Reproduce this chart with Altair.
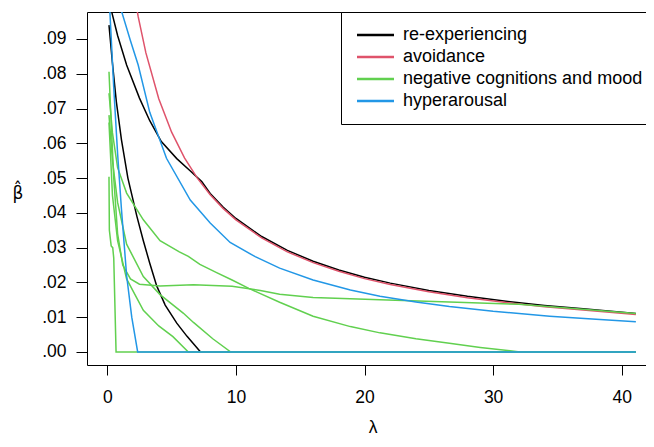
import altair as alt
import pandas as pd

groups = ["re-experiencing", "avoidance", "negative cognitions and mood", "hyperarousal"]
colors = ["#000000", "#DF536B", "#61D04F", "#2297E6"]

# re-experiencing (black)
re1_lam = [0.13, 0.4, 0.7, 1.1, 1.6, 2.3, 2.8, 3.3, 3.84, 4.5, 5.4, 6.2, 7.25, 41.1]
re1_val = [0.094, 0.083, 0.072, 0.061, 0.050, 0.039, 0.032, 0.0255, 0.019, 0.0135, 0.0083, 0.0045, 0.0, 0.0]
re2_lam = [0.13, 0.34, 0.8, 1.5, 2.5, 3.3, 4.2, 5.4, 6.5, 7.34, 8, 9, 10, 12, 14, 16, 18, 20, 22, 25, 28, 31, 34, 37, 41.1]
re2_val = [0.101, 0.0978, 0.091, 0.0825, 0.073, 0.0665, 0.0605, 0.0556, 0.0519, 0.049, 0.0456, 0.0417, 0.0384, 0.0332,
           0.0292, 0.0261, 0.0236, 0.0215, 0.0198, 0.0177, 0.0160, 0.0146, 0.0134, 0.0124, 0.0111]
# avoidance (red)
av_lam = [0.13, 0.6, 1.2, 1.8, 2.4, 3, 4, 5, 6, 7, 8, 9, 10, 12, 14, 16, 18, 20, 22, 25, 28, 31, 34, 37, 41.1]
av_val = [0.178, 0.1516, 0.1273, 0.1097, 0.0964, 0.086, 0.0728, 0.0632, 0.0558, 0.050, 0.0452, 0.0413, 0.038, 0.0328,
          0.0288, 0.0257, 0.0232, 0.0211, 0.0194, 0.0173, 0.0156, 0.0142, 0.0130, 0.0121, 0.0108]
# negative cognitions and mood (green)
nA_lam = [0.13, 0.16, 0.3, 0.42, 0.5, 0.68, 41.1]
nA_val = [0.0504, 0.035, 0.0305, 0.030, 0.027, 0.0, 0.0]
nB_lam = [0.13, 0.3, 0.5, 0.8, 1.2, 1.8, 2.5, 4.1, 6.7, 9.7, 11.9, 13.4, 16, 21.2, 26.6, 32, 36, 41.1]
nB_val = [0.0806, 0.066, 0.05, 0.034, 0.025, 0.021, 0.0195, 0.019, 0.0193, 0.0189, 0.0177, 0.0166, 0.0157, 0.015,
          0.0144, 0.0137, 0.0126, 0.0111]
nC_lam = [0.13, 0.4, 0.8, 1.5, 2.8, 4.1, 5.6, 6.3, 7.2, 8.5, 9.7, 11, 13.4, 16, 18.9, 21.2, 24, 26.6, 29, 32.1, 41.1]
nC_val = [0.0744, 0.063, 0.053, 0.0457, 0.038, 0.032, 0.0288, 0.0275, 0.0252, 0.0228, 0.0207, 0.0183, 0.0143, 0.0103,
          0.0073, 0.0055, 0.0038, 0.0025, 0.0013, 0.0, 0.0]
nD_lam = [0.13, 0.4, 0.8, 1.5, 2.8, 4.1, 5.9, 6.7, 8.2, 9.6, 41.1]
nD_val = [0.0681, 0.055, 0.043, 0.031, 0.0217, 0.0165, 0.0112, 0.0085, 0.0038, 0.0, 0.0]
nE_lam = [0.13, 0.4, 0.8, 1.5, 2.8, 4, 5.1, 6.3, 41.1]
nE_val = [0.066, 0.045, 0.032, 0.021, 0.012, 0.0075, 0.0044, 0.0, 0.0]
# hyperarousal (blue)
h1_lam = [0.13, 0.2, 0.5, 0.8, 1.1, 1.5, 1.9, 2.36, 41.1]
h1_val = [0.101, 0.0978, 0.076, 0.057, 0.041, 0.022, 0.010, 0.0, 0.0]
h2_lam = [0.13, 0.6, 1.12, 1.8, 2.4, 3.3, 4.6, 6.45, 8, 9.55, 11.5, 13.4, 16, 18.9, 21.2, 24, 26.6, 30, 34.4, 38, 41.1]
h2_val = [0.110, 0.104, 0.0978, 0.0895, 0.0825, 0.0689, 0.0557, 0.0437, 0.0371, 0.0315, 0.0274, 0.0241, 0.0207,
          0.0178, 0.016, 0.0144, 0.0131, 0.0117, 0.0103, 0.0094, 0.0087]

x_ticks = [0, 10, 20, 30, 40]
y_ticks = [0.0, 0.01, 0.02, 0.03, 0.04, 0.05, 0.06, 0.07, 0.08, 0.09]
x_title = "λ"
y_title = "β\u0302"

series = [
    ("re1", groups[0], re1_lam, re1_val),
    ("re2", groups[0], re2_lam, re2_val),
    ("av", groups[1], av_lam, av_val),
    ("nA", groups[2], nA_lam, nA_val),
    ("nB", groups[2], nB_lam, nB_val),
    ("nC", groups[2], nC_lam, nC_val),
    ("nD", groups[2], nD_lam, nD_val),
    ("nE", groups[2], nE_lam, nE_val),
    ("h1", groups[3], h1_lam, h1_val),
    ("h2", groups[3], h2_lam, h2_val),
]

rows = []
for sid, grp, lams, vals in series:
    for i, (l, v) in enumerate(zip(lams, vals)):
        rows.append({"series": sid, "group": grp, "lam": l, "beta": v, "ord": i})
df = pd.DataFrame(rows)

FONT = "Liberation Sans"
AX = 17.5

chart = alt.Chart(df).mark_line(clip=True, strokeWidth=1.5).encode(
    x=alt.X("lam:Q",
            scale=alt.Scale(domain=[-1.58, 42.51], nice=False, zero=False),
            axis=alt.Axis(values=x_ticks, format="d", tickSize=10, labelPadding=13,
                          labelFontSize=AX, labelFont=FONT, labelColor="black",
                          tickColor="black", domain=False, grid=False,
                          title=x_title, titleFont=FONT, titleFontSize=AX, titleFontWeight="normal",
                          titleColor="black", titleX=285.5, titleY=62, titleBaseline="middle")),
    y=alt.Y("beta:Q",
            scale=alt.Scale(domain=[-0.00374, 0.09776], nice=False, zero=False),
            axis=alt.Axis(values=y_ticks, labelExpr="replace(format(datum.value, '.2f'), '0.', '.')",
                          tickSize=11, labelPadding=10, labelFontSize=AX, labelFont=FONT,
                          labelColor="black", tickColor="black", domain=False, grid=False,
                          title=y_title, titleFont="DejaVu Sans", titleFontSize=17, titleFontWeight="normal",
                          titleColor="black", titleAngle=0, titleX=-69.5, titleY=186,
                          titleAlign="center", titleBaseline="alphabetic")),
    color=alt.Color("group:N",
                    scale=alt.Scale(domain=groups, range=colors),
                    legend=alt.Legend(orient="none", legendX=254, legendY=0, title=None,
                                      strokeColor="black", fillColor="white", padding=14,
                                      cornerRadius=0, symbolType="M-1.4,0H6", symbolSize=100,
                                      symbolStrokeWidth=2.5, labelFontSize=18, labelFont=FONT,
                                      labelColor="black", rowPadding=4, labelOffset=30,
                                      labelLimit=0)),
    detail="series:N",
    order="ord:Q",
).properties(
    width=567, height=353,
    padding={"left": 79, "top": 4, "right": -8, "bottom": 70},
    autosize="none",
    background="white",
).configure_view(stroke="black", strokeWidth=1)

chart.save("out.html", embed_options={"renderer": "svg", "actions": False})
